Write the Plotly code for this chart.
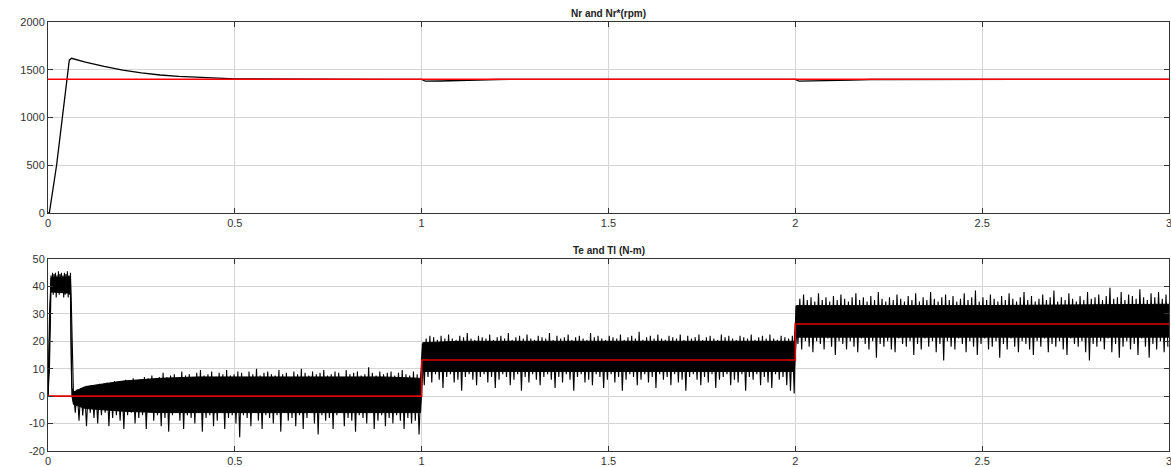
import numpy as np
import plotly.graph_objects as go
from plotly.subplots import make_subplots

# ---------------- data ----------------
# Speed (rpm)
nr_t = [0, 0.0035, 0.023, 0.039, 0.053, 0.057, 0.063, 0.08, 0.1, 0.15, 0.2, 0.25, 0.3, 0.35,
        0.4, 0.45, 0.5, 0.55, 0.62, 0.7, 0.9, 1.0, 1.01, 1.05, 1.1, 1.15, 1.2, 1.5,
        2.0, 2.01, 2.05, 2.1, 2.15, 2.2, 2.5, 3.0]
nr_v = [0, 0, 500, 1000, 1500, 1600, 1620, 1605, 1580, 1535, 1497, 1468, 1445, 1430,
        1420, 1412, 1405, 1403, 1401, 1400, 1400, 1400, 1380, 1382, 1386, 1392, 1398, 1400,
        1400, 1380, 1382, 1386, 1392, 1398, 1400, 1400]
nr_ref_t = [0, 3]
nr_ref_v = [1400, 1400]

# Load torque Tl (N-m), step changes
tl_t = [0, 1, 1, 2, 2, 3]
tl_v = [0, 0, 13.2, 13.2, 26.3, 26.3]

# Te dense band (core of the ripple)
core_t = [0, 0.004, 0.008, 0.06, 0.062, 0.064, 0.068, 0.1, 0.2, 0.3, 0.4, 0.5, 0.6, 0.7,
          0.8, 0.9, 0.997, 1.003, 1.1, 1.5, 1.997, 2.003, 2.5, 3.0]
core_hi = [0, 30, 43, 43.5, 20, 3, 1.5, 3.5, 5.5, 6.5, 7, 7, 7, 7,
           7, 7, 6.5, 19.5, 20, 20, 20, 33, 33, 33.5]
core_lo = [0, 10, 38, 37.5, 12, 0, -3, -4.5, -5.5, -6, -6, -6, -6, -6,
           -6, -6, -6, 9, 9, 9, 9, 21.5, 21.5, 21.5]

# Te ripple extremes (peaks / troughs), read per interval
spk0_start, spk0_step = 0.008, 0.004
spk0_hi = [44, 45, 44.5, 45, 44, 45.5, 44.5, 45, 44, 45, 44.5, 45.5, 44, 45]
spk0_lo = [38, 37, 39, 36, 38, 37, 39, 38, 36, 37, 38, 36, 37, 36]

spkB_start, spkB_step = 0.068, 0.01
spkB_hi = [1.5, 2.5, 3, 2.5, 3.5, 4, 3.5, 4.5, 4, 5, 4.5, 5.5, 5, 4.5, 6, 5.5, 6.5, 5, 6, 7,
           6.5, 7.5, 6, 7, 8.5, 7, 7.5, 8, 6.5, 9, 7.5, 8, 7, 8.5, 9.5, 7.5, 8, 9, 7, 8.5, 8,
           9.5, 7.5, 8, 9, 8.5, 7, 9, 8, 10, 7.5, 8.5, 9, 8, 7.5, 9.5, 8, 8.5, 7, 9, 8, 10,
           8.5, 7.5, 9, 8, 8.5, 9.5, 7.5, 8, 9, 8.5, 7, 9.5, 8, 8.5, 9, 7.5, 8, 10.5, 8.5,
           7.5, 9, 8, 8.5, 9, 7.5, 8.5, 9.5, 8, 7.5, 9, 8]
spkB_lo = [-6, -9, -7, -11, -6, -8, -10, -7, -6, -11, -8, -7, -9, -12, -7, -6, -10, -8, -7,
           -12, -6, -9, -7, -11, -8, -13, -7, -6, -9, -12, -7, -8, -10, -6, -13, -8, -7, -11,
           -9, -6, -12, -8, -7, -10, -15, -7, -8, -11, -6, -9, -12, -7, -8, -10, -7, -13, -6,
           -9, -8, -11, -7, -12, -8, -6, -10, -14, -7, -9, -8, -12, -7, -6, -11, -8, -9, -13,
           -7, -8, -10, -6, -12, -9, -7, -11, -8, -10, -7, -9, -12, -8, -10, -9, -14]

spkC_start, spkC_step = 1.002, 0.01
spkC_hi = [19, 21, 22, 21.5, 20.5, 22, 21, 22.5, 21, 20.5, 22, 21.5, 23, 21, 20.5, 22, 21.5,
           21, 22.5, 20.5, 21.5, 22, 21, 23, 20.5, 21.5, 22, 21, 22.5, 21, 20.5, 22, 21.5, 21,
           23, 20.5, 22, 21, 21.5, 22.5, 20.5, 21.5, 22, 21, 20.5, 23, 21.5, 22, 21, 20.5, 22,
           21.5, 21, 22.5, 20.5, 21.5, 22, 21, 23.5, 20.5, 21.5, 22, 21, 22.5, 21, 20.5, 22,
           21.5, 21, 22.5, 20.5, 22, 21, 21.5, 22.5, 20.5, 21.5, 22, 21, 20.5, 22.5, 21.5, 22,
           21, 20.5, 22, 21.5, 21, 22.5, 20.5, 21.5, 22, 21, 22.5, 21, 20.5, 22, 21.5, 21, 22]
spkC_lo = [4, 7, 5, 8, 6, 3, 7, 8, 5, 6, 2, 7, 8, 6, 4, 7, 8, 5, 7, 3, 6, 8, 7, 4, 6, 8, 2,
           7, 5, 8, 6, 4, 7, 8, 6, 3, 7, 5, 8, 6, 2, 7, 8, 5, 6, 4, 8, 7, 3, 6, 8, 5, 7, 2, 6,
           8, 7, 4, 6, 8, 5, 7, 3, 8, 6, 7, 4, 8, 5, 6, 2, 7, 8, 6, 4, 7, 5, 8, 3, 6, 7, 8, 4,
           6, 5, 8, 2, 7, 6, 8, 4, 7, 5, 3, 8, 6, 7, 4, 2, 1]

spkD_start, spkD_step = 2.002, 0.01
spkD_hi = [33, 35.5, 37, 35, 36, 34.5, 37.5, 35, 36, 34.5, 36.5, 35, 37, 35.5, 34.5, 36, 37.5,
           35, 36, 34.5, 36.5, 35, 38, 35.5, 34.5, 36, 35, 37, 35.5, 34.5, 36.5, 35, 37.5, 34.5,
           36, 35, 38, 35.5, 34.5, 36, 37, 35, 36.5, 34.5, 35.5, 37.5, 35, 36, 38.5, 34.5, 36,
           35, 37, 35.5, 34.5, 36.5, 35, 37.5, 35.5, 34.5, 36, 38, 35, 36.5, 34.5, 35.5, 37, 35,
           36, 38.5, 34.5, 36, 35, 37.5, 35.5, 34.5, 36.5, 35, 38, 35.5, 36, 37, 35, 36.5, 39.5,
           35.5, 36, 38, 35, 37, 36.5, 35.5, 39, 36, 35, 37.5, 36, 38, 35.5, 37]
spkD_lo = [19, 17, 20, 18, 16, 20, 19, 17, 21, 18, 15, 20, 19, 17, 20, 18, 16, 21, 19, 17, 20,
           14, 19, 18, 20, 17, 16, 21, 19, 18, 20, 15, 19, 17, 21, 18, 20, 16, 19, 13, 20, 18,
           17, 21, 19, 16, 20, 18, 15, 19, 21, 17, 18, 20, 14, 19, 17, 21, 18, 16, 20, 19, 17,
           15, 20, 18, 21, 16, 19, 18, 20, 17, 15, 21, 19, 18, 20, 16, 13, 19, 18, 20, 17, 21,
           16, 19, 14, 18, 20, 17, 19, 15, 21, 18, 14, 19, 17, 20, 16, 18]

# tick labels
x_ticks = [0, 0.5, 1, 1.5, 2, 2.5, 3]
x_tick_text = ["0", "0.5", "1", "1.5", "2", "2.5", "3"]
y1_ticks = [0, 500, 1000, 1500, 2000]
y2_ticks = [-20, -10, 0, 10, 20, 30, 40, 50]
y2_tick_text = ["-20", "-10", "0", "10", "20", "30", "40", "50"]

# ---------------- build ripple polyline ----------------
def zigzag(start, step, hi, lo):
    xs, ys = [], []
    for i, (h, l) in enumerate(zip(hi, lo)):
        t = start + i * step
        xs += [t, t + step / 2]
        ys += [h, l]
    return xs, ys

te_x, te_y = [0.0], [0.0]
for args in [(spk0_start, spk0_step, spk0_hi, spk0_lo),
             (spkB_start, spkB_step, spkB_hi, spkB_lo),
             (spkC_start, spkC_step, spkC_hi, spkC_lo),
             (spkD_start, spkD_step, spkD_hi, spkD_lo)]:
    xs, ys = zigzag(*args)
    te_x += xs
    te_y += ys

# ---------------- figure ----------------
fig = make_subplots(rows=2, cols=1, vertical_spacing=0.1)

fig.add_trace(go.Scatter(x=nr_t, y=nr_v, mode="lines", line=dict(color="black", width=1.3),
                         showlegend=False), row=1, col=1)
fig.add_trace(go.Scatter(x=nr_ref_t, y=nr_ref_v, mode="lines", line=dict(color="#ff0000", width=1.5),
                         showlegend=False), row=1, col=1)

fig.add_trace(go.Scatter(x=core_t, y=core_lo, mode="lines", line=dict(color="black", width=1),
                         showlegend=False), row=2, col=1)
fig.add_trace(go.Scatter(x=core_t, y=core_hi, mode="lines", line=dict(color="black", width=1),
                         fill="tonexty", fillcolor="black", showlegend=False), row=2, col=1)
fig.add_trace(go.Scatter(x=te_x, y=te_y, mode="lines", line=dict(color="black", width=1.1),
                         showlegend=False), row=2, col=1)
fig.add_trace(go.Scatter(x=tl_t, y=tl_v, mode="lines", line=dict(color="#e00000", width=1.6),
                         showlegend=False), row=2, col=1)

top_dom = [0.5548, 1.0]
bot_dom = [0.0, 0.4476]

axis_common = dict(showline=True, linecolor="#333333", linewidth=1, mirror="allticks",
                   ticks="inside", ticklen=5, tickcolor="#333333", showgrid=True,
                   gridcolor="#d4d4d4", gridwidth=1, zeroline=False, automargin=False,
                   ticklabeloverflow="allow",
                   tickfont=dict(family="Liberation Sans, Arial", size=11, color="#333333"))

fig.update_xaxes(range=[0, 3], tickvals=x_ticks, ticktext=x_tick_text, **axis_common)
fig.update_yaxes(**axis_common)
fig.update_yaxes(range=[0, 2000], tickvals=y1_ticks, domain=top_dom, row=1, col=1)
fig.update_yaxes(range=[-20, 50], tickvals=y2_ticks, ticktext=y2_tick_text, domain=bot_dom,
                 row=2, col=1)

fig.add_annotation(text="<b>Nr and Nr*(rpm)</b>", x=0.5, xref="paper", y=top_dom[1], yref="paper",
                   yanchor="bottom", yshift=1, showarrow=False,
                   font=dict(family="Liberation Sans, Arial", size=10, color="#222222"))
fig.add_annotation(text="<b>Te and Tl (N-m)</b>", x=0.5, xref="paper", y=bot_dom[1], yref="paper",
                   yanchor="bottom", yshift=1, showarrow=False,
                   font=dict(family="Liberation Sans, Arial", size=10, color="#222222"))

fig.update_layout(width=1171, height=467, margin=dict(l=48, r=2, t=22, b=16),
                  plot_bgcolor="white", paper_bgcolor="white")

fig.write_html("out.html", config={"displayModeBar": False},
               post_script="document.body.style.margin='0px';document.body.style.overflow='hidden';")
